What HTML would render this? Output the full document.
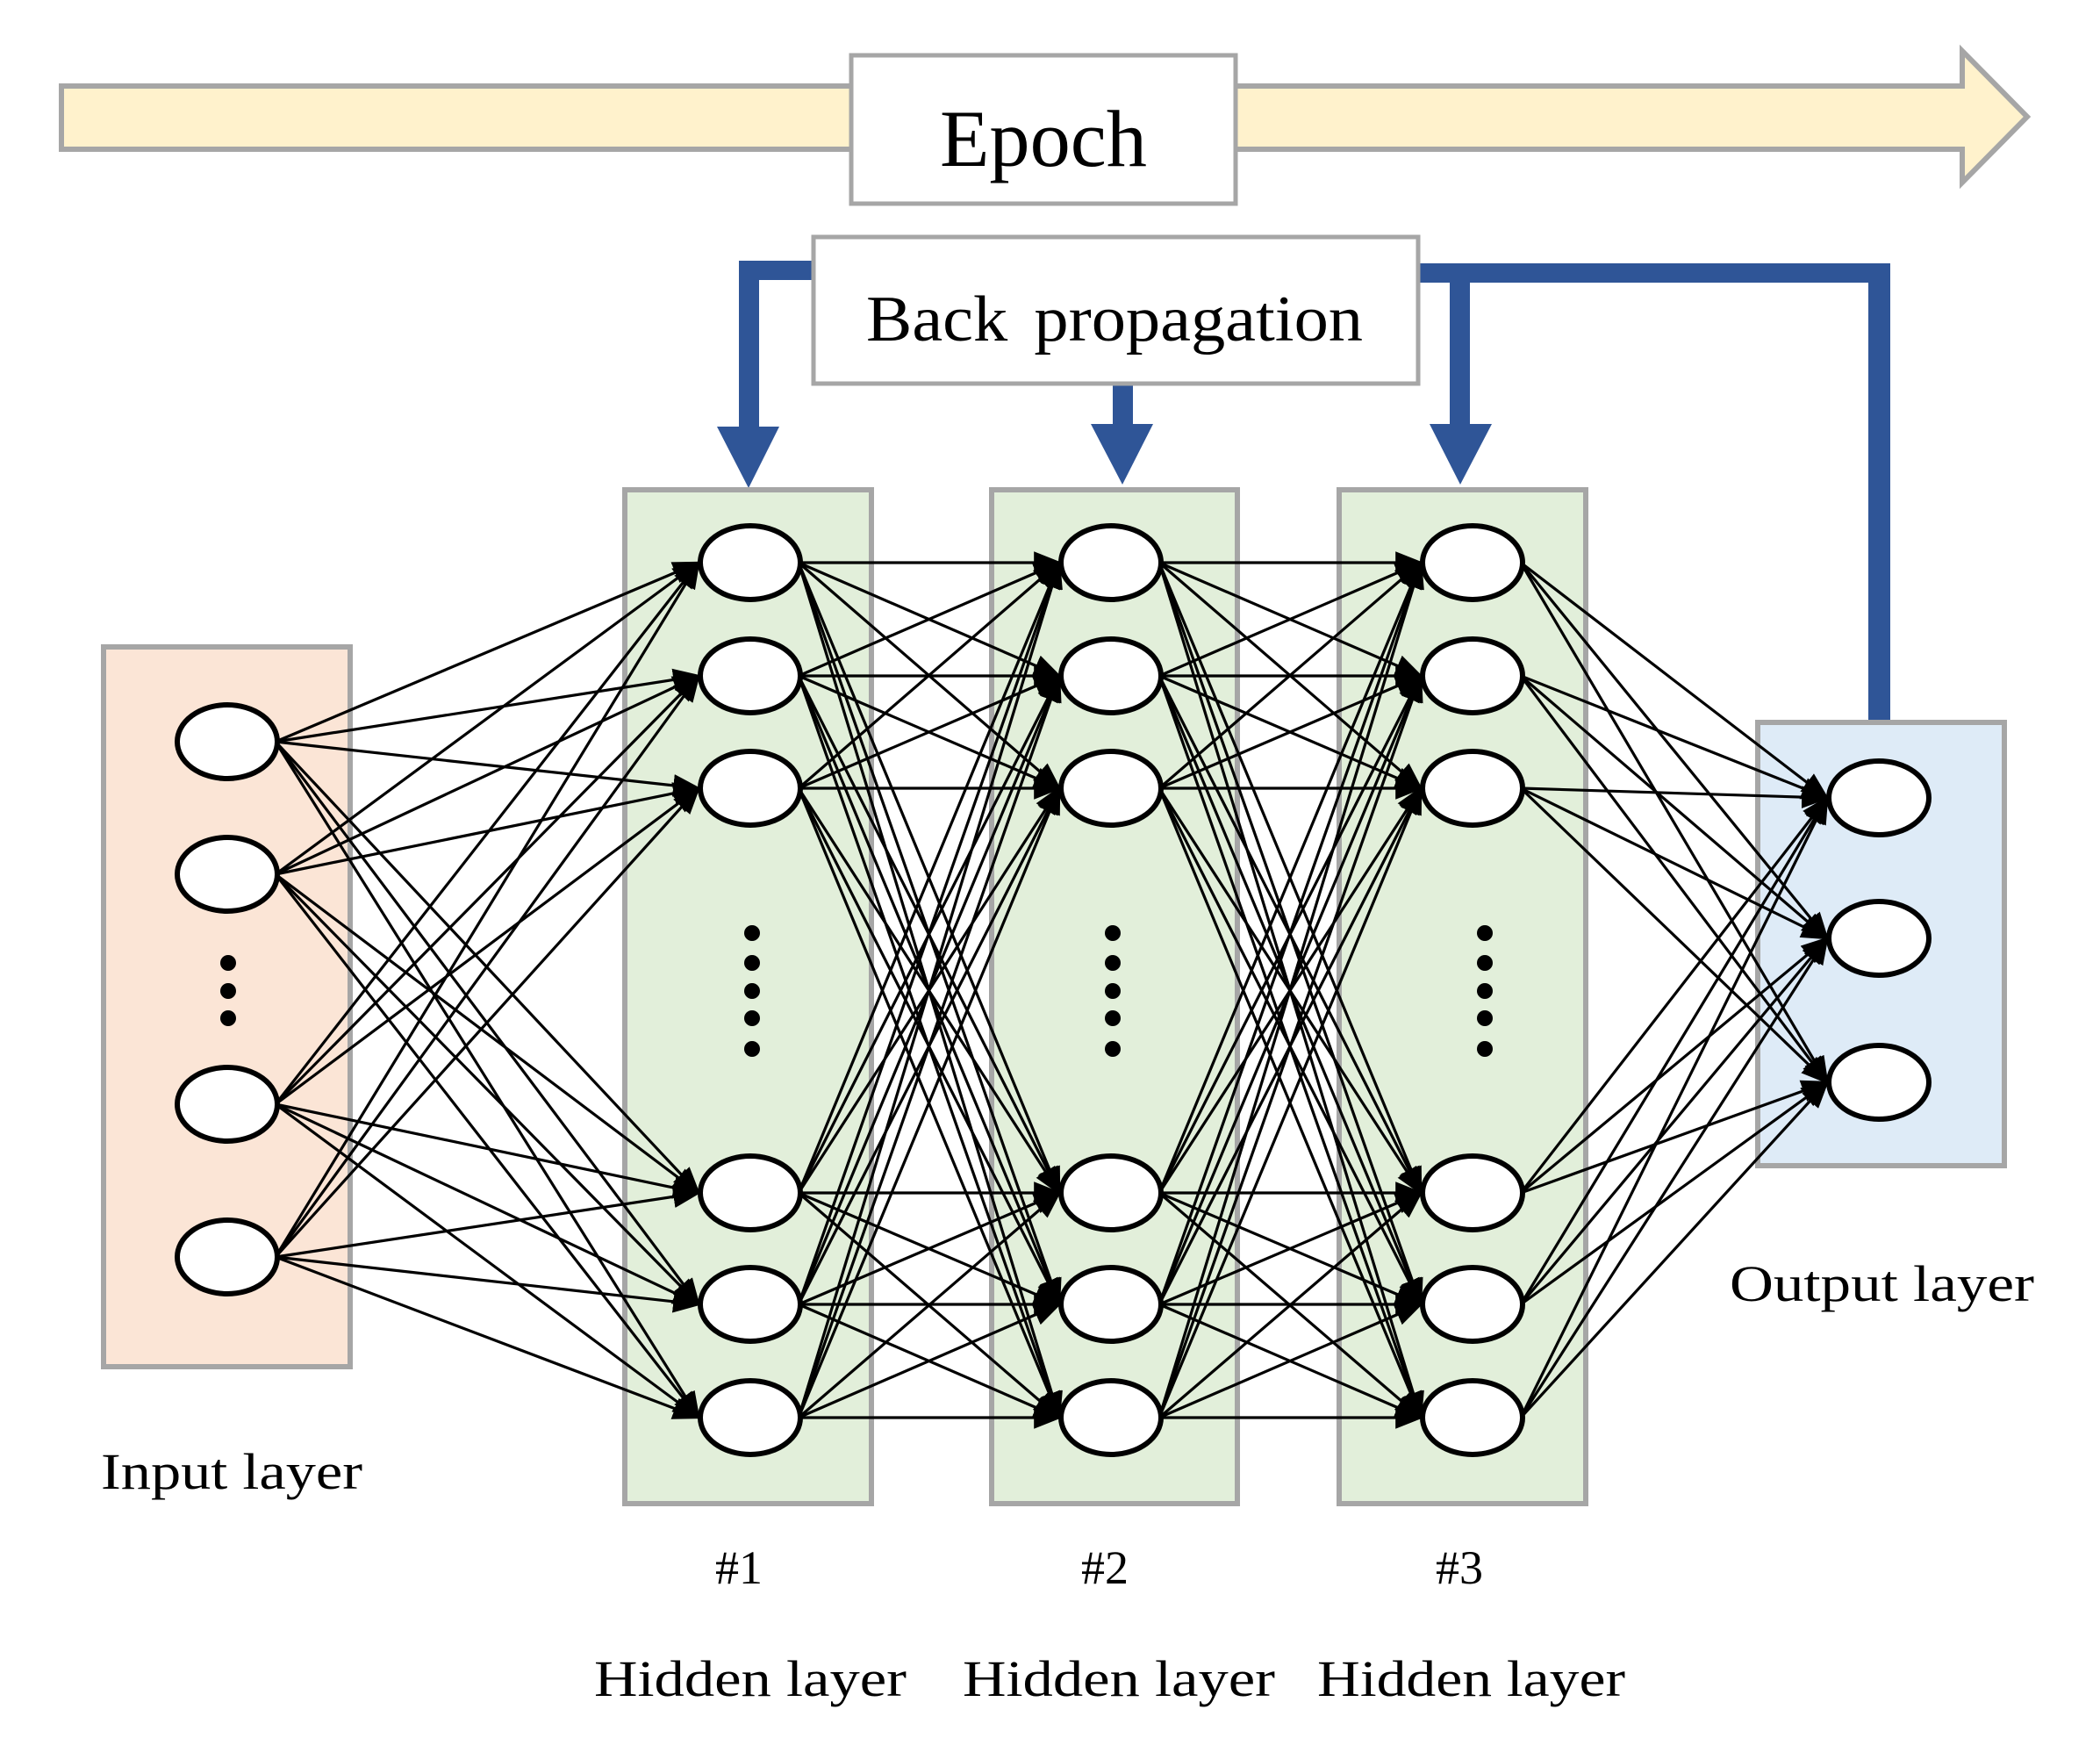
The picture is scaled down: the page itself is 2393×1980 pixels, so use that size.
<!DOCTYPE html>
<html><head><meta charset="utf-8"><style>html,body{margin:0;padding:0;background:#fff}svg{display:block}</style></head>
<body>
<svg id="s" xmlns="http://www.w3.org/2000/svg" width="2393" height="1980" viewBox="0 0 2393 1980">
<defs>
<marker id="ah" markerWidth="10" markerHeight="8" refX="9" refY="4" orient="auto" markerUnits="strokeWidth">
<path d="M0,0 L10,4 L0,8 Z" fill="#000"/>
</marker>
</defs>
<polygon points="70,98 2236,98 2236,58 2310,133 2236,208 2236,170 70,170" fill="#fff2cc" stroke="#a6a6a6" stroke-width="6"/>
<rect x="970" y="63" width="438" height="169" fill="#fff" stroke="#a6a6a6" stroke-width="5"/>
<text x="1189" y="189" text-anchor="middle" font-family="Liberation Serif, serif" font-size="92" textLength="236" lengthAdjust="spacingAndGlyphs">Epoch</text>

<g fill="#2f5597">
<rect x="842" y="297" width="90" height="22"/>
<rect x="842" y="297" width="23" height="190"/>
<polygon points="817,486 888,486 853,556"/>
<rect x="1268" y="435" width="23" height="50"/>
<polygon points="1243,483 1314,483 1279,552"/>
<rect x="1612" y="300" width="542" height="22"/>
<rect x="2129" y="300" width="25" height="524"/>
<rect x="1652" y="300" width="23" height="185"/>
<polygon points="1629,483 1700,483 1664,552"/>
</g>
<rect x="927" y="270" width="689" height="167" fill="#fff" stroke="#a6a6a6" stroke-width="5"/>
<text x="987" y="388" font-family="Liberation Serif, serif" font-size="74" textLength="566" lengthAdjust="spacingAndGlyphs" word-spacing="10">Back propagation</text>

<rect x="118" y="737" width="281" height="820" fill="#fbe5d6" stroke="#a6a6a6" stroke-width="6"/>
<rect x="712" y="558" width="281" height="1155" fill="#e2efda" stroke="#a6a6a6" stroke-width="6"/>
<rect x="1130" y="558" width="280" height="1155" fill="#e2efda" stroke="#a6a6a6" stroke-width="6"/>
<rect x="1526" y="558" width="281" height="1155" fill="#e2efda" stroke="#a6a6a6" stroke-width="6"/>
<rect x="2003" y="823" width="281" height="505" fill="#deebf7" stroke="#a6a6a6" stroke-width="6"/>

<g id="edges" stroke="#000" stroke-width="3.2" fill="none"></g>
<g id="nodes" fill="#fff" stroke="#000" stroke-width="6"></g>

<g fill="#000">
<circle cx="260" cy="1097" r="9"/><circle cx="260" cy="1129" r="9"/><circle cx="260" cy="1160" r="9"/>
<circle cx="857" cy="1063" r="9"/><circle cx="857" cy="1097" r="9"/><circle cx="857" cy="1129" r="9"/><circle cx="857" cy="1160" r="9"/><circle cx="857" cy="1195" r="9"/>
<circle cx="1268" cy="1063" r="9"/><circle cx="1268" cy="1097" r="9"/><circle cx="1268" cy="1129" r="9"/><circle cx="1268" cy="1160" r="9"/><circle cx="1268" cy="1195" r="9"/>
<circle cx="1692" cy="1063" r="9"/><circle cx="1692" cy="1097" r="9"/><circle cx="1692" cy="1129" r="9"/><circle cx="1692" cy="1160" r="9"/><circle cx="1692" cy="1195" r="9"/>
</g>

<g font-family="Liberation Serif, serif" font-size="58" fill="#000">
<text x="115" y="1696" textLength="298" lengthAdjust="spacingAndGlyphs">Input layer</text>
<text x="842" y="1804" text-anchor="middle" font-size="54">#1</text>
<text x="1259" y="1804" text-anchor="middle" font-size="54">#2</text>
<text x="1663" y="1804" text-anchor="middle" font-size="54">#3</text>
<text x="677" y="1932" textLength="356" lengthAdjust="spacingAndGlyphs">Hidden layer</text>
<text x="1097" y="1932" textLength="356" lengthAdjust="spacingAndGlyphs">Hidden layer</text>
<text x="1501" y="1932" textLength="351" lengthAdjust="spacingAndGlyphs">Hidden layer</text>
<text x="1971" y="1482" textLength="347" lengthAdjust="spacingAndGlyphs">Output layer</text>
</g>
</svg>
<script>
(function(){
var NS="http://www.w3.org/2000/svg";
var L=[
 {x:259,ys:[845,996,1258,1432],rx:57,ry:42},
 {x:855,ys:[641,770,898,1359,1486,1615],rx:57,ry:42},
 {x:1266,ys:[641,770,898,1359,1486,1615],rx:57,ry:42},
 {x:1678,ys:[641,770,898,1359,1486,1615],rx:57,ry:42},
 {x:2141,ys:[909,1069,1233],rx:57,ry:42}
];
var E=document.getElementById('edges'),N=document.getElementById('nodes');
for(var i=0;i<L.length-1;i++){
 var a=L[i],b=L[i+1];
 a.ys.forEach(function(y1){b.ys.forEach(function(y2){
  var l=document.createElementNS(NS,'line');
  l.setAttribute('x1',a.x+a.rx-2);l.setAttribute('y1',y1);
  l.setAttribute('x2',b.x-b.rx-2);l.setAttribute('y2',y2);
  l.setAttribute('marker-end','url(#ah)');E.appendChild(l);
 });});
}
L.forEach(function(a){a.ys.forEach(function(y){
 var e=document.createElementNS(NS,'ellipse');
 e.setAttribute('cx',a.x);e.setAttribute('cy',y);e.setAttribute('rx',a.rx);e.setAttribute('ry',a.ry);N.appendChild(e);
});});
})();
</script>
</body></html>
